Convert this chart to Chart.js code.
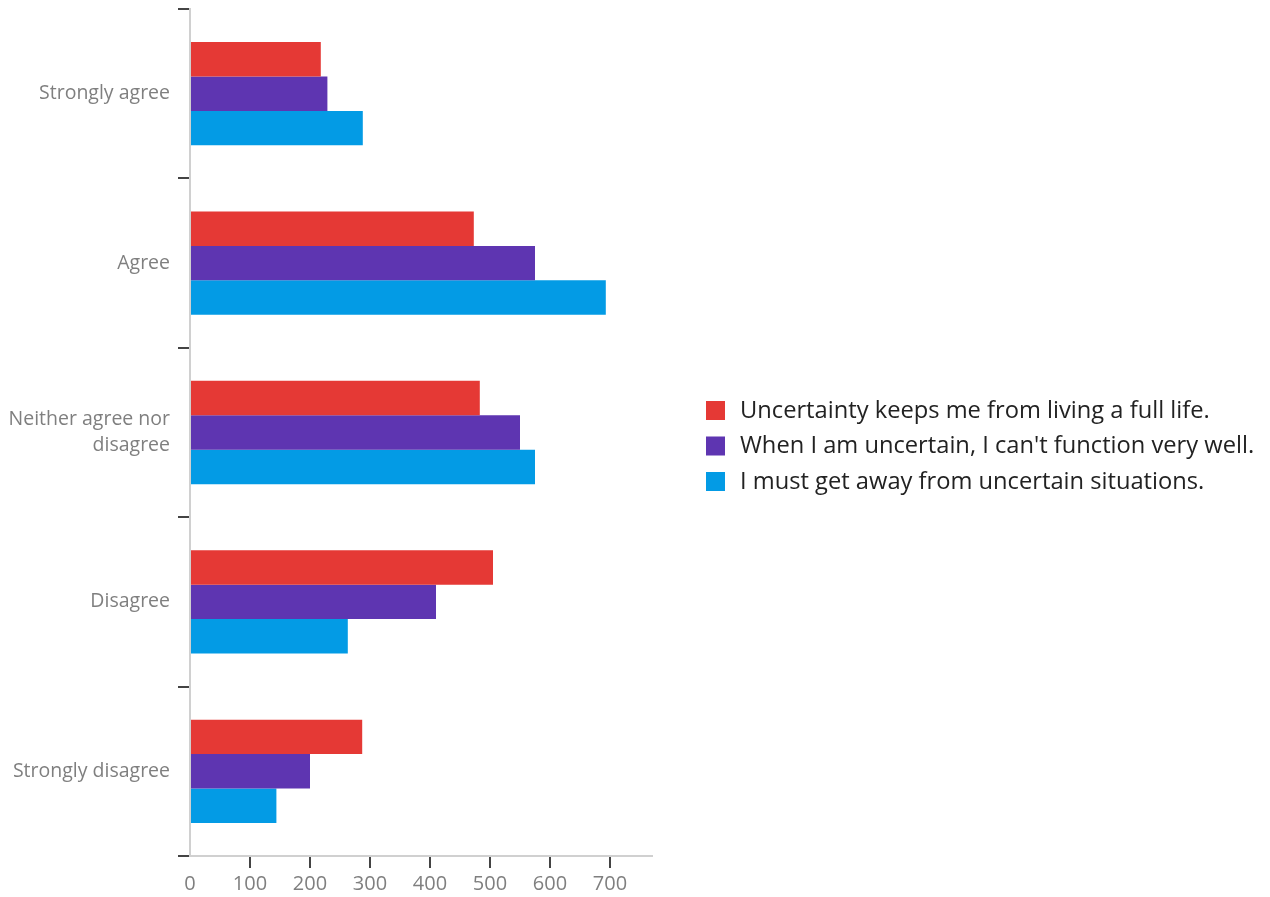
<!DOCTYPE html>
<html>
<head>
<meta charset="utf-8">
<script src="https://cdn.jsdelivr.net/npm/chart.js@4/dist/chart.umd.min.js"></script>
<style>
  html, body { margin: 0; padding: 0; background: #fff; }
  canvas { display: block; }
</style>
</head>
<body>
<canvas id="chart" width="1270" height="897"></canvas>
<script>
// categorias e valores
const categorias = ['Strongly agree', 'Agree', ['Neither agree nor', 'disagree'], 'Disagree', 'Strongly disagree'];
const rotulos = [
    'Uncertainty keeps me from living a full life.',
    'When I am uncertain, I can\'t function very well.',
    'I must get away from uncertain situations.'
];
const valoresVida = [218, 473, 483, 505, 287];
const valoresFuncao = [229, 575, 550, 410, 200];
const valoresFuga = [288, 693, 575, 263, 144];
const ticksX = [0, 100, 200, 300, 400, 500, 600, 700];
const cores = ['#E53935', '#5E35B1', '#039BE5'];

// legenda desenhada à direita do gráfico
const legendaDireita = {
    id: 'legendaDireita',
    afterDraw(chart) {
        const ctx = chart.ctx;
        ctx.save();
        ctx.font = '23.7px "Open Sans", sans-serif';
        ctx.textBaseline = 'middle';
        ctx.textAlign = 'left';
        chart.data.datasets.forEach((ds, i) => {
            const y = 410 + i * 35.5;
            ctx.fillStyle = ds.backgroundColor;
            ctx.fillRect(706, y - 9, 19, 19);
            ctx.fillStyle = '#222';
            ctx.fillText(ds.label, 740, y + 1);
        });
        ctx.restore();
    }
};

const ctx = document.getElementById('chart').getContext('2d');
const chart = new Chart(ctx, {
    type: 'bar',
    data: {
        labels: categorias,
        datasets: [
            { label: rotulos[0], data: valoresVida, backgroundColor: cores[0] },
            { label: rotulos[1], data: valoresFuncao, backgroundColor: cores[1] },
            { label: rotulos[2], data: valoresFuga, backgroundColor: cores[2] }
        ]
    },
    options: {
        indexAxis: 'y',
        responsive: false,
        animation: false,
        layout: {
            padding: { top: 9, right: 618, bottom: 0, left: 0 }
        },
        datasets: {
            bar: { barPercentage: 1, categoryPercentage: 0.61 }
        },
        plugins: {
            legend: { display: false },
            tooltip: { enabled: false }
        },
        scales: {
            x: {
                min: 0,
                max: 770,
                afterBuildTicks: axis => {
                    axis.ticks = ticksX.map(v => ({ value: v }));
                },
                afterFit: scale => {
                    scale.height = 41;
                    scale.paddingLeft = 0;
                    scale.paddingRight = 0;
                },
                ticks: {
                    stepSize: 100,
                    includeBounds: false,
                    autoSkip: false,
                    maxRotation: 0,
                    color: '#7f7f7f',
                    font: { family: '"Open Sans", sans-serif', size: 20 },
                    padding: 4
                },
                grid: {
                    drawOnChartArea: false,
                    tickLength: 12,
                    lineWidth: 2,
                    color: c => (c.tick && c.tick.value === 0) ? 'rgba(0,0,0,0)' : '#444'
                },
                border: { color: '#d0d0d0', width: 2 }
            },
            y: {
                afterFit: scale => {
                    scale.width = 190;
                    scale.paddingTop = 0;
                    scale.paddingBottom = 0;
                },
                ticks: {
                    autoSkip: false,
                    color: '#7f7f7f',
                    font: { family: '"Open Sans", sans-serif', size: 19.5, lineHeight: 1.3 },
                    padding: 8
                },
                grid: {
                    drawOnChartArea: false,
                    tickLength: 12,
                    lineWidth: 2,
                    color: '#444'
                },
                border: { color: '#d0d0d0', width: 2 }
            }
        }
    },
    plugins: [legendaDireita]
});
</script>
</body>
</html>
